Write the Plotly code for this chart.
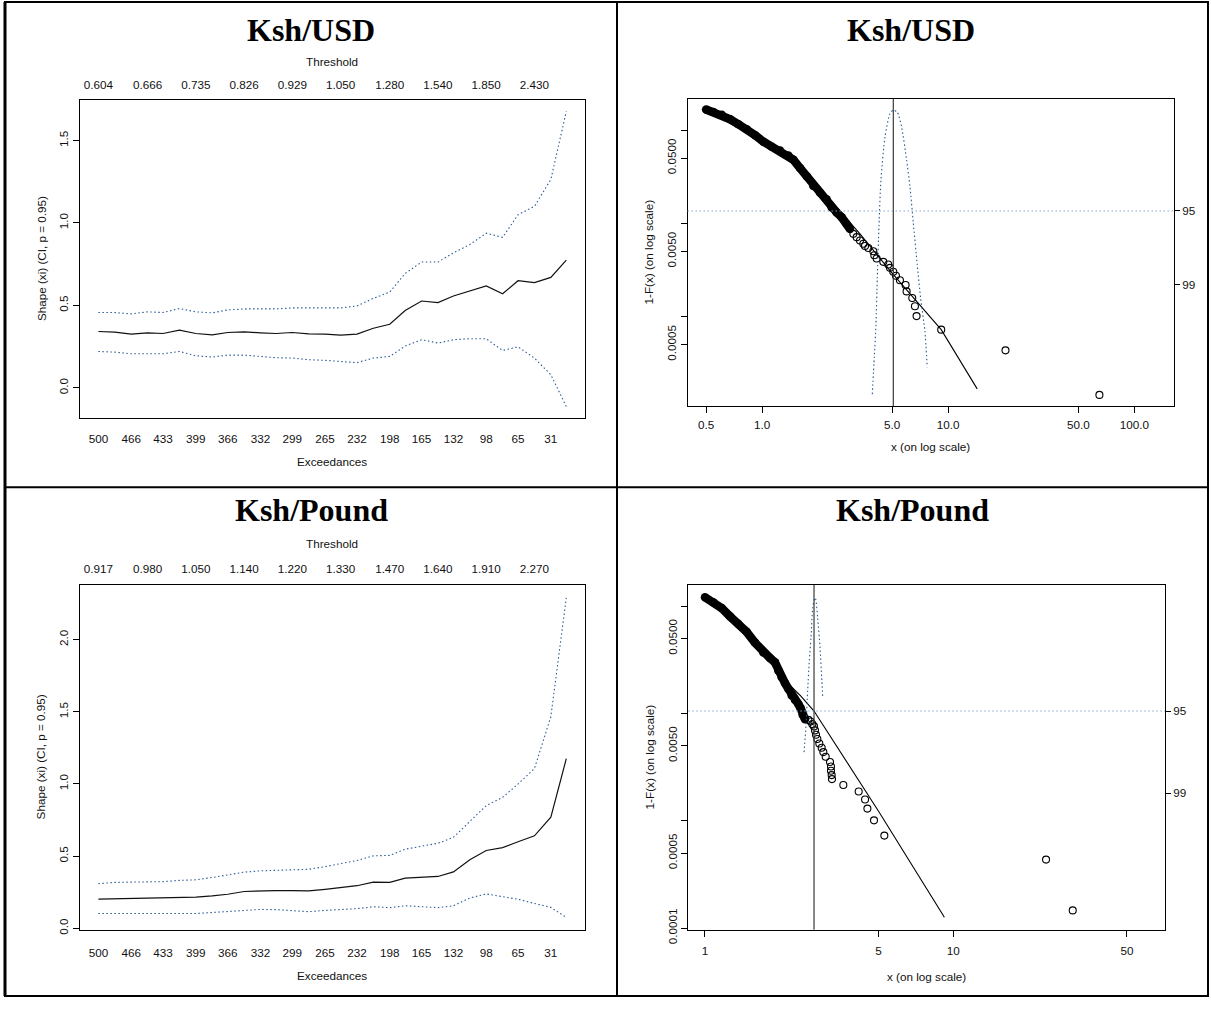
import plotly.graph_objects as go

W, H = 1211, 1012

# ---------------- Shape plots (left column) ----------------
exceedances = [500, 483, 466, 449, 433, 416, 399, 382, 366, 349, 332, 316, 299, 282, 265,
               249, 232, 215, 198, 182, 165, 148, 132, 115, 98, 81, 65, 48, 31, 15]
exceed_tick_exc = [500, 466, 433, 399, 366, 332, 299, 265, 232, 198, 165, 132, 98, 65, 31]
threshold_tick_exc = [500, 449, 399, 349, 299, 249, 198, 148, 98, 48]

usd_xi = [0.342, 0.338, 0.326, 0.334, 0.330, 0.350, 0.330, 0.322, 0.336, 0.340,
          0.334, 0.330, 0.336, 0.328, 0.326, 0.320, 0.326, 0.362, 0.386, 0.469,
          0.527, 0.517, 0.557, 0.588, 0.618, 0.571, 0.650, 0.638, 0.670, 0.775]
usd_xi_upper = [0.457, 0.457, 0.449, 0.461, 0.457, 0.481, 0.461, 0.455, 0.473, 0.479,
                0.479, 0.479, 0.485, 0.485, 0.485, 0.485, 0.497, 0.543, 0.581, 0.694,
                0.763, 0.763, 0.819, 0.869, 0.938, 0.913, 1.050, 1.101, 1.264, 1.676]
usd_xi_lower = [0.221, 0.217, 0.207, 0.209, 0.207, 0.221, 0.195, 0.187, 0.199, 0.199,
                0.189, 0.183, 0.181, 0.171, 0.167, 0.159, 0.153, 0.181, 0.191, 0.254,
                0.292, 0.272, 0.292, 0.298, 0.298, 0.227, 0.249, 0.181, 0.080, -0.113]
usd_threshold_text = ["0.604", "0.666", "0.735", "0.826", "0.929",
                      "1.050", "1.280", "1.540", "1.850", "2.430"]

gbp_xi = [0.202, 0.205, 0.207, 0.209, 0.209, 0.214, 0.216, 0.225, 0.236, 0.255,
          0.259, 0.261, 0.261, 0.259, 0.270, 0.284, 0.295, 0.320, 0.318, 0.348,
          0.352, 0.359, 0.391, 0.475, 0.539, 0.559, 0.600, 0.641, 0.770, 1.175]
gbp_xi_upper = [0.309, 0.318, 0.320, 0.323, 0.323, 0.332, 0.336, 0.352, 0.368, 0.389,
                0.398, 0.402, 0.402, 0.409, 0.427, 0.448, 0.470, 0.502, 0.505, 0.548,
                0.568, 0.589, 0.630, 0.739, 0.850, 0.907, 1.000, 1.107, 1.466, 2.289]
gbp_xi_lower = [0.102, 0.102, 0.102, 0.102, 0.100, 0.102, 0.102, 0.109, 0.115, 0.124,
                0.131, 0.129, 0.124, 0.115, 0.124, 0.129, 0.136, 0.149, 0.143, 0.156,
                0.152, 0.143, 0.156, 0.210, 0.238, 0.219, 0.201, 0.172, 0.145, 0.075]
gbp_threshold_text = ["0.917", "0.980", "1.050", "1.140", "1.220",
                      "1.330", "1.470", "1.640", "1.910", "2.270"]

# ---------------- Tail plots (right column) ----------------
usd_dense_x = [0.500, 0.548, 0.6075, 0.6735, 0.7464, 0.8273, 0.9172, 1.0167, 1.1268, 1.249,
               1.3845, 1.4732, 1.5995, 1.7365, 1.8858, 2.0477, 2.2233, 2.3648, 2.5157, 2.6761,
               2.8469, 2.9667]
usd_dense_y = [0.1670, 0.1564, 0.1466, 0.1308, 0.1158, 0.1025, 0.0885, 0.0752, 0.0666, 0.0604,
               0.0534, 0.0481, 0.0392, 0.0320, 0.0251, 0.0213, 0.0181, 0.0148, 0.0131, 0.0116,
               0.00984, 0.00871]
usd_pts_x = [3.092, 3.222, 3.357, 3.499, 3.572, 3.722, 3.959, 4.008, 4.125, 4.480, 4.764, 4.863,
             5.068, 5.238, 5.503, 5.902, 5.976, 6.410, 6.625, 6.761, 9.171, 20.31, 64.9]
usd_pts_y = [0.00771, 0.00711, 0.00655, 0.00604, 0.00571, 0.00543, 0.00501, 0.00454, 0.00419,
             0.00386, 0.00362, 0.00333, 0.00302, 0.00274, 0.00245, 0.00218, 0.00186, 0.00158,
             0.00129, 0.00101, 0.000722, 0.000433, 0.000144]
usd_fit_x = [2.27, 3.357, 5.006, 9.171, 14.31]
usd_fit_y = [0.01886, 0.00771, 0.00290, 0.000722, 0.000167]
usd_quantile = 5.07
usd_prof_x = [3.909, 4.008, 4.091, 4.159, 4.246, 4.352, 4.573, 4.863, 5.068,
              5.325, 5.617, 5.976, 6.227, 6.490, 6.819, 7.106, 7.494, 7.714]
usd_prof_ll = [-5.405, -4.704, -4.078, -3.201, -2.200, -1.323, -0.509, -0.071, 0.0,
               -0.040, -0.322, -0.948, -1.449, -2.137, -2.951, -3.577, -4.203, -4.892]

gbp_dense_x = [1.000, 1.0803, 1.167, 1.2606, 1.3619, 1.4715, 1.5897, 1.7175, 1.8271, 1.9133,
               1.9734, 2.0353, 2.0992, 2.1651, 2.2336, 2.3037, 2.376, 2.4281, 2.4738, 2.5279]
gbp_dense_y = [0.1219, 0.1096, 0.0966, 0.0809, 0.0688, 0.0580, 0.0460, 0.0372, 0.0330, 0.0301,
               0.0252, 0.0219, 0.0193, 0.0171, 0.0148, 0.0134, 0.0123, 0.0112, 0.00972, 0.00887]
gbp_pts_x = [2.607, 2.664, 2.706, 2.748, 2.773, 2.799, 2.834, 2.887, 2.950, 2.996, 3.062, 3.187,
             3.216, 3.216, 3.236, 3.246, 3.606, 4.157, 4.410, 4.507, 4.792, 5.274, 23.61, 30.24]
gbp_pts_y = [0.00874, 0.00844, 0.00798, 0.00760, 0.00698, 0.00636, 0.00580, 0.00526, 0.00480,
             0.00438, 0.00396, 0.00354, 0.00321, 0.00293, 0.00267, 0.00245, 0.00216, 0.00188,
             0.00158, 0.00130, 0.00101, 0.000728, 0.000435, 0.000146]
gbp_fit_x = [2.119, 2.413, 2.748, 5.020, 9.201]
gbp_fit_y = [0.01998, 0.01485, 0.01058, 0.00121, 0.000126]
gbp_quantile = 2.748
gbp_prof_x = [2.505, 2.551, 2.591, 2.631, 2.672, 2.714, 2.765, 2.790, 2.842, 2.905, 2.950, 2.978]
gbp_prof_ll = [-2.618, -2.182, -1.569, -1.067, -0.676, -0.174, 0.0, -0.019, -0.341, -0.843,
               -1.345, -1.680]

# chi-square(1) quantiles for 95%, 99%, 99.9%
conf_labels = ["95", "99"]
chi2_q = [3.8415, 6.6349]
chi2_999 = 10.8276

# ---------------- styles ----------------
FONT = "Liberation Sans, Arial, sans-serif"
TXT = "#111111"
CI_COL = "#2a5b98"
HL_COL = "#86a8d2"
TFS = 11.7


def dx(a, b):
    return [a / W, b / W]


def dy(top, bottom):
    return [1 - bottom / H, 1 - top / H]


def px(x):
    return x / W


def py(y):
    return 1 - y / H


fig = go.Figure()


# ---------- shape plots ----------
def add_shape_panel(xa, ya, xa_top, xi, up, lo):
    idx = [-e for e in exceedances]
    fig.add_trace(go.Scatter(x=idx, y=xi, mode="lines", xaxis=xa, yaxis=ya,
                             line=dict(color="#111111", width=1.2), hoverinfo="skip"))
    for band in (up, lo):
        fig.add_trace(go.Scatter(x=idx, y=band, mode="lines", xaxis=xa, yaxis=ya,
                                 line=dict(color=CI_COL, width=1.1, dash="1.5px,2.5px"),
                                 hoverinfo="skip"))
    fig.add_trace(go.Scatter(x=idx, y=xi, mode="lines", xaxis=xa_top, yaxis=ya,
                             line=dict(width=0), opacity=0, hoverinfo="skip"))


add_shape_panel("x", "y", "x2", usd_xi, usd_xi_upper, usd_xi_lower)
add_shape_panel("x3", "y3", "x4", gbp_xi, gbp_xi_upper, gbp_xi_lower)


# ---------- tail plots ----------
def add_tail_panel(xa, ya, ya2, dxs, dys, pxs, pys, fx, fy, prx, prl):
    fig.add_trace(go.Scatter(x=dxs, y=dys, mode="lines+markers", xaxis=xa, yaxis=ya,
                             line=dict(color="#000000", width=8.5),
                             marker=dict(symbol="circle", size=8.5, color="#000000"),
                             hoverinfo="skip"))
    fig.add_trace(go.Scatter(x=pxs, y=pys, mode="markers", xaxis=xa, yaxis=ya,
                             marker=dict(symbol="circle-open", size=7,
                                         color="#000000", line=dict(width=1.1)),
                             hoverinfo="skip"))
    fig.add_trace(go.Scatter(x=fx, y=fy, mode="lines", xaxis=xa, yaxis=ya,
                             line=dict(color="#000000", width=1.1), hoverinfo="skip"))
    fig.add_trace(go.Scatter(x=prx, y=prl, mode="lines", xaxis=xa, yaxis=ya2,
                             line=dict(color=CI_COL, width=1.1, dash="1.5px,2.5px",
                                       shape="spline", smoothing=0.6),
                             hoverinfo="skip"))


add_tail_panel("x5", "y5", "y6", usd_dense_x, usd_dense_y, usd_pts_x, usd_pts_y,
               usd_fit_x, usd_fit_y, usd_prof_x, usd_prof_ll)
add_tail_panel("x7", "y7", "y8", gbp_dense_x, gbp_dense_y, gbp_pts_x, gbp_pts_y,
               gbp_fit_x, gbp_fit_y, gbp_prof_x, gbp_prof_ll)

tickfont = dict(family=FONT, size=TFS, color=TXT)
box = dict(showline=True, linecolor="#000000", linewidth=1, mirror=True,
           showgrid=False, zeroline=False)

ll_lo = -chi2_999 / 2
ll_pad = (0 - ll_lo) * 0.04
ll_range = [ll_lo - ll_pad, ll_pad]
ll_ticks = [-q / 2 for q in chi2_q]

layout = dict(
    width=W, height=H, margin=dict(l=0, r=0, t=0, b=0),
    paper_bgcolor="white", plot_bgcolor="white", showlegend=False,
    font=dict(family=FONT, size=TFS, color=TXT),
    # ---- top-left ----
    xaxis=dict(domain=dx(79.7, 585), anchor="y", range=[-519.4, 4.4], **box,
               tickmode="array", tickvals=[-e for e in exceed_tick_exc],
               ticktext=[str(e) for e in exceed_tick_exc], ticks="",
               tickfont=tickfont, ticklabelstandoff=10),
    xaxis2=dict(overlaying="x", anchor="y", side="top", range=[-519.4, 4.4],
                showline=False, showgrid=False, zeroline=False,
                tickmode="array", tickvals=[-e for e in threshold_tick_exc],
                ticktext=usd_threshold_text, ticks="", tickfont=tickfont,
                ticklabelstandoff=7),
    yaxis=dict(domain=dy(101, 424.3), anchor="x", range=[-0.185, 1.748], **box,
               tickmode="array", tickvals=[0, 0.5, 1.0, 1.5],
               ticktext=["0.0", "0.5", "1.0", "1.5"], ticks="outside", ticklen=6,
               tickcolor="#000000", tickangle=-90, tickfont=tickfont),
    # ---- bottom-left ----
    xaxis3=dict(domain=dx(79.7, 585), anchor="y3", range=[-519.4, 4.4], **box,
                tickmode="array", tickvals=[-e for e in exceed_tick_exc],
                ticktext=[str(e) for e in exceed_tick_exc], ticks="",
                tickfont=tickfont, ticklabelstandoff=12),
    xaxis4=dict(overlaying="x3", anchor="y3", side="top", range=[-519.4, 4.4],
                showline=False, showgrid=False, zeroline=False,
                tickmode="array", tickvals=[-e for e in threshold_tick_exc],
                ticktext=gbp_threshold_text, ticks="", tickfont=tickfont,
                ticklabelstandoff=9),
    yaxis3=dict(domain=dy(593.3, 943.3), anchor="x3", range=[-0.0136, 2.378], **box,
                tickmode="array", tickvals=[0, 0.5, 1.0, 1.5, 2.0],
                ticktext=["0.0", "0.5", "1.0", "1.5", "2.0"], ticks="outside", ticklen=6,
                tickcolor="#000000", tickangle=-90, tickfont=tickfont),
    # ---- top-right ----
    xaxis5=dict(domain=dx(687.5, 1174), anchor="y5", type="log", range=[-0.4007, 2.213],
                **box, tickmode="array", tickvals=[0.5, 1, 5, 10, 50, 100],
                ticktext=["0.5", "1.0", "5.0", "10.0", "50.0", "100.0"],
                ticks="outside", ticklen=6, tickcolor="#000000", tickfont=tickfont,
                ticklabelstandoff=2),
    yaxis5=dict(domain=dy(100, 411.7), anchor="x5", type="log", range=[-3.961, -0.661],
                **box, tickmode="array",
                tickvals=[0.0005, 0.001, 0.005, 0.01, 0.05, 0.1],
                ticktext=["0.0005", "", "0.0050", "", "0.0500", ""],
                ticks="outside", ticklen=6, tickcolor="#000000", tickangle=-90,
                tickfont=tickfont),
    yaxis6=dict(overlaying="y5", anchor="x5", side="right", range=ll_range,
                showline=False, showgrid=False, zeroline=False,
                tickmode="array", tickvals=ll_ticks, ticktext=conf_labels,
                ticks="outside", ticklen=5, tickcolor="#000000", tickfont=tickfont),
    # ---- bottom-right ----
    xaxis7=dict(domain=dx(688.3, 1165), anchor="y7", type="log", range=[-0.0671, 1.852],
                **box, tickmode="array", tickvals=[1, 5, 10, 50],
                ticktext=["1", "5", "10", "50"],
                ticks="outside", ticklen=6, tickcolor="#000000", tickfont=tickfont,
                ticklabelstandoff=4),
    yaxis7=dict(domain=dy(593.3, 942.7), anchor="x7", type="log", range=[-4.0153, -0.8006],
                **box, tickmode="array",
                tickvals=[0.0001, 0.0005, 0.001, 0.005, 0.01, 0.05, 0.1],
                ticktext=["0.0001", "0.0005", "", "0.0050", "", "0.0500", ""],
                ticks="outside", ticklen=6, tickcolor="#000000", tickangle=-90,
                tickfont=tickfont),
    yaxis8=dict(overlaying="y7", anchor="x7", side="right", range=ll_range,
                showline=False, showgrid=False, zeroline=False,
                tickmode="array", tickvals=ll_ticks, ticktext=conf_labels,
                ticks="outside", ticklen=5, tickcolor="#000000", tickfont=tickfont),
)
fig.update_layout(**layout)

shapes = []
# frame of the 2x2 table
for (x0, y0, x1, y1, w) in [(5, 2, 5, 1010, 3), (1208, 2, 1208, 1010, 2),
                            (4, 2, 1209, 2, 2), (4, 1010, 1209, 1010, 2),
                            (617, 2, 617, 1010, 2), (4, 494, 1209, 494, 2)]:
    shapes.append(dict(type="line", xref="paper", yref="paper",
                       x0=px(x0), x1=px(x1), y0=py(y0), y1=py(y1),
                       line=dict(color="#000000", width=w)))
for xa, ya, ya2, q in [("x5", "y5", "y6", usd_quantile), ("x7", "y7", "y8", gbp_quantile)]:
    shapes.append(dict(type="line", xref=xa, yref=ya + " domain", x0=q, x1=q, y0=0, y1=1,
                       line=dict(color="#3a3a3a", width=1.2)))
    shapes.append(dict(type="line", xref=xa + " domain", yref=ya2, x0=0, x1=1,
                       y0=ll_ticks[0], y1=ll_ticks[0],
                       line=dict(color=HL_COL, width=1.1, dash="1.5px,2.5px")))
fig.update_layout(shapes=shapes)

ann = []
TITLE_FONT = dict(family="Liberation Serif, Times New Roman, serif", size=32, color="#000000")
for (x, y, t) in [(311, 30, "<b>Ksh/USD</b>"), (911, 30, "<b>Ksh/USD</b>"),
                  (311, 517, "<b>Ksh/Pound</b>"), (912, 517, "<b>Ksh/Pound</b>")]:
    ann.append(dict(x=px(x), y=py(y), xref="paper", yref="paper", text=t, showarrow=False,
                    xanchor="center", yanchor="middle", font=TITLE_FONT))
lab = dict(family=FONT, size=TFS, color=TXT)
for (x, y, t, ang) in [
        (332, 62, "Threshold", 0), (332, 551, "Threshold", 0),
        (332, 468, "Exceedances", 0), (332, 989, "Exceedances", 0),
        (41, 262.7, "Shape (xi) (CI, p = 0.95)", -90), (40, 768, "Shape (xi) (CI, p = 0.95)", -90),
        (648, 256, "1-F(x) (on log scale)", -90), (649, 768, "1-F(x) (on log scale)", -90),
        (930, 453, "x (on log scale)", 0), (926, 990, "x (on log scale)", 0)]:
    ann.append(dict(x=px(x), y=py(y), xref="paper", yref="paper", text=t, showarrow=False,
                    xanchor="center", yanchor="middle", textangle=ang, font=lab))
fig.update_layout(annotations=ann)

fig.write_html("out.html")
